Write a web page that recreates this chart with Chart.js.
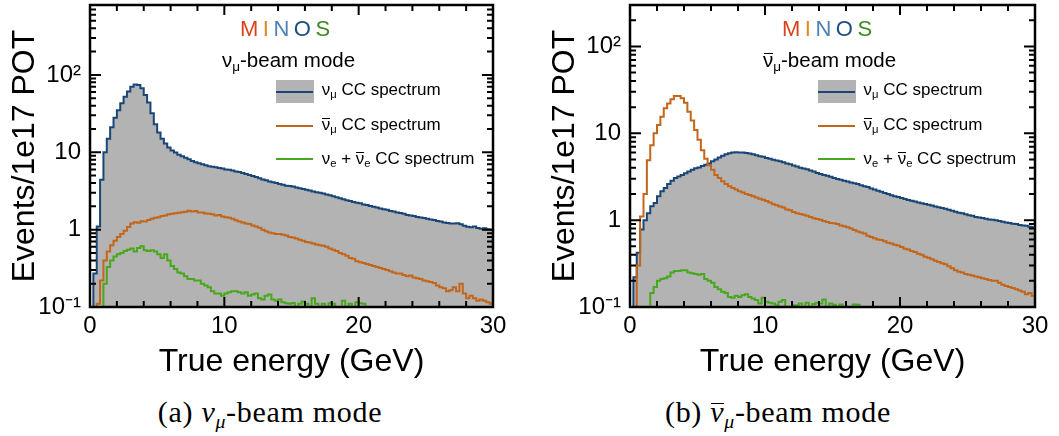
<!DOCTYPE html>
<html><head><meta charset="utf-8">
<script src="https://cdn.jsdelivr.net/npm/chart.js@4/dist/chart.umd.min.js"></script>
<style>
html,body{margin:0;padding:0;background:#fff;}
body{width:1059px;height:436px;position:relative;overflow:hidden;font-family:"Liberation Sans",Arial,sans-serif;color:#000;}
.panel{position:absolute;top:0;}
canvas{display:block;}
.abs{position:absolute;white-space:nowrap;}
.logo{font-size:22px;line-height:22px;letter-spacing:4.5px;}
.mode{font-size:20.5px;line-height:20px;}
.leg{font-size:17px;line-height:17px;}
.sub{font-size:0.66em;position:relative;top:0.32em;}
.bar{position:relative;display:inline-block;}
.bar::before{content:"";position:absolute;left:0.04em;right:0.02em;top:0.13em;border-top:1.4px solid #000;}
.sw{position:absolute;width:38px;height:23px;}
.swl{position:absolute;width:37px;height:2px;}
.cap{font-family:"Liberation Serif","Times New Roman",serif;font-size:30px;line-height:30px;text-align:center;letter-spacing:0.7px;}
.cap .bar::before{top:0.2em;border-top-width:1.2px;}
</style>
</head>
<body>
<div class="panel" style="left:0;width:530px;height:385px"><canvas id="cA" width="530" height="385"></canvas></div>
<div class="panel" style="left:540px;width:519px;height:385px"><canvas id="cB" width="519" height="385"></canvas></div>

<div class="abs logo" style="left:240px;top:18px"><span style="color:#d8431c">M</span><span style="color:#e08a1e">I</span><span style="color:#4b82b8">N</span><span style="color:#1d4f80">O</span><span style="color:#3f8a26">S</span></div>
<div class="abs mode" style="left:222px;top:50px">ν<span class="sub">μ</span>-beam mode</div>
<div class="sw" style="left:276px;top:80px;background:#b3b3b3"></div>
<div class="swl" style="left:276px;top:90.7px;background:#1a4677"></div>
<div class="swl" style="left:276px;top:124.7px;background:#c4661a"></div>
<div class="swl" style="left:276px;top:158px;background:#48a81c"></div>
<div class="abs leg" style="left:321.7px;top:80.6px">ν<span class="sub">μ</span> CC spectrum</div>
<div class="abs leg" style="left:321.7px;top:115.6px"><span class="bar">ν</span><span class="sub">μ</span> CC spectrum</div>
<div class="abs leg" style="left:321.7px;top:149.9px">ν<span class="sub">e</span> + <span class="bar">ν</span><span class="sub">e</span> CC spectrum</div>

<div class="abs logo" style="left:782px;top:18px"><span style="color:#d8431c">M</span><span style="color:#e08a1e">I</span><span style="color:#4b82b8">N</span><span style="color:#1d4f80">O</span><span style="color:#3f8a26">S</span></div>
<div class="abs mode" style="left:763px;top:50px"><span class="bar">ν</span><span class="sub">μ</span>-beam mode</div>
<div class="sw" style="left:818px;top:80px;background:#b3b3b3"></div>
<div class="swl" style="left:818px;top:90.7px;background:#1a4677"></div>
<div class="swl" style="left:818px;top:124.7px;background:#c4661a"></div>
<div class="swl" style="left:818px;top:158px;background:#48a81c"></div>
<div class="abs leg" style="left:863.5px;top:80.6px">ν<span class="sub">μ</span> CC spectrum</div>
<div class="abs leg" style="left:863.5px;top:115.6px"><span class="bar">ν</span><span class="sub">μ</span> CC spectrum</div>
<div class="abs leg" style="left:863.5px;top:149.9px">ν<span class="sub">e</span> + <span class="bar">ν</span><span class="sub">e</span> CC spectrum</div>

<div class="abs cap" style="left:0;width:540px;top:396.5px">(a) <i>ν<span class="sub">μ</span></i>-beam mode</div>
<div class="abs cap" style="left:518px;width:520px;top:396.5px">(b) <i><span class="bar">ν</span><span class="sub">μ</span></i>-beam mode</div>

<script>
// ---- binning ----
const BIN_W = 0.25;          // GeV per bin, 120 bins from 0 to 30 GeV
const X_MIN = 0, X_MAX = 30;

// ---- axis ticks ----
const X_TICKS = [0,2,4,6,8,10,12,14,16,18,20,22,24,26,28,30];
const X_LABELED = [0,10,20,30];
const Y_TICKS_A = [0.1,0.2,0.3,0.4,0.5,0.6,0.7,0.8,0.9,1,2,3,4,5,6,7,8,9,10,20,30,40,50,60,70,80,90,100,200,300,400,500,600,700,800];
const Y_TICKS_B = [0.1,0.2,0.3,0.4,0.5,0.6,0.7,0.8,0.9,1,2,3,4,5,6,7,8,9,10,20,30,40,50,60,70,80,90,100,200,300];
const Y_MAJOR = [0.1,1,10,100];
const Y_LABEL_VALUES = [0.1,1,10,100];
const Y_LABEL_TEXT = ['10\u207B\u00B9','1','10','10\u00B2'];
const Y_MAX_A = 800, Y_MAX_B = 300, Y_MIN = 0.1;

// ---- panel (a): nu_mu-beam mode, events / 1e17 POT per 0.25 GeV bin ----
const A_NUMU = [
 0.04,0.27,1.1,4.4,10,15,21,28,35,43,
 52,61,70,75,74,67,55,44,32,23,
 18,15,13,11.5,10.5,9.9,9.3,8.9,8.5,8.1,
 7.7,7.4,7.2,7.0,6.8,6.6,6.5,6.4,6.25,6.15,
 6.0,5.95,5.8,5.65,5.55,5.4,5.25,5.1,4.95,4.8,
 4.6,4.45,4.35,4.2,4.1,4.0,3.9,3.8,3.7,3.65,
 3.6,3.5,3.42,3.35,3.28,3.2,3.12,3.05,3.0,2.93,
 2.85,2.78,2.7,2.62,2.55,2.47,2.4,2.35,2.28,2.22,
 2.2,2.12,2.08,2.02,1.98,1.93,1.88,1.84,1.8,1.74,
 1.71,1.66,1.64,1.6,1.55,1.52,1.5,1.46,1.43,1.41,
 1.38,1.35,1.33,1.29,1.27,1.24,1.22,1.2,1.2,1.21,
 1.17,1.12,1.09,1.07,1.1,1.05,1.03,1.04,1.01,1.0];
const A_NUMUBAR = [
 0.01,0.01,0.11,0.22,0.40,0.52,0.63,0.72,0.8,0.88,
 0.97,1.08,1.2,1.25,1.23,1.28,1.27,1.33,1.38,1.42,
 1.45,1.5,1.52,1.58,1.6,1.63,1.65,1.68,1.7,1.75,
 1.72,1.74,1.66,1.67,1.62,1.6,1.58,1.52,1.54,1.48,
 1.45,1.42,1.38,1.32,1.27,1.24,1.2,1.18,1.13,1.1,
 1.06,1.0,0.95,0.92,0.9,0.88,0.88,0.86,0.84,0.8,
 0.79,0.77,0.74,0.72,0.69,0.68,0.66,0.64,0.63,0.62,
 0.6,0.57,0.55,0.53,0.5,0.48,0.46,0.43,0.42,0.39,
 0.38,0.37,0.36,0.35,0.34,0.33,0.32,0.31,0.3,0.29,
 0.28,0.27,0.27,0.26,0.25,0.255,0.24,0.235,0.23,0.22,
 0.215,0.21,0.205,0.19,0.18,0.175,0.16,0.165,0.18,0.16,
 0.2,0.15,0.13,0.14,0.13,0.12,0.125,0.12,0.115,0.11];
const A_NUE = [
 0.01,0.01,0.01,0.01,0.2,0.33,0.4,0.45,0.48,0.5,
 0.53,0.55,0.57,0.52,0.58,0.61,0.54,0.53,0.54,0.52,
 0.48,0.43,0.48,0.4,0.34,0.31,0.28,0.27,0.25,0.23,
 0.23,0.22,0.22,0.2,0.19,0.18,0.16,0.15,0.15,0.14,
 0.15,0.155,0.16,0.16,0.155,0.15,0.155,0.14,0.145,0.15,
 0.13,0.125,0.14,0.145,0.125,0.12,0.125,0.115,0.112,0.11,
 0.113,0.1,0.11,0.118,0.11,0.1,0.13,0.11,0.098,0.11,
 0.1,0.112,0.11,0.097,0.1,0.12,0.098,0.11,0.097,0.115,
 0.112,0.11,0.08,0.07,0.06,0.05,0.06,0.05,0.06,0.05,
 0.05,0.06,0.05,0.05,0.04,0.05,0.05,0.04,0.05,0.04,
 0.04,0.05,0.04,0.04,0.04,0.03,0.04,0.04,0.03,0.04,
 0.03,0.03,0.04,0.03,0.03,0.03,0.03,0.02,0.03,0.03];

// ---- panel (b): anti-nu_mu-beam mode ----
const B_NUMU = [
 0.1,0.22,0.42,0.78,1.0,1.2,1.45,1.58,1.88,2.15,
 2.35,2.6,2.85,3.05,3.18,3.32,3.47,3.62,3.8,3.95,
 4.05,4.2,4.35,4.5,4.75,5.0,5.25,5.5,5.75,5.9,
 6.0,6.05,6.0,6.0,5.95,5.85,5.75,5.6,5.45,5.38,
 5.2,5.1,4.95,4.85,4.75,4.65,4.5,4.4,4.25,4.15,
 4.0,3.92,3.85,3.74,3.62,3.5,3.4,3.32,3.25,3.15,
 3.05,2.98,2.92,2.85,2.78,2.72,2.66,2.6,2.52,2.46,
 2.4,2.32,2.25,2.18,2.12,2.05,2.0,1.94,1.88,1.85,
 1.8,1.75,1.71,1.67,1.64,1.6,1.56,1.53,1.5,1.47,
 1.44,1.41,1.38,1.35,1.32,1.28,1.25,1.22,1.2,1.17,
 1.14,1.12,1.09,1.07,1.06,1.04,1.02,1.01,1.0,0.98,
 0.96,0.94,0.93,0.91,0.9,0.88,0.87,0.86,0.84,0.83];
const B_NUMUBAR = [
 0.01,0.01,0.3,1.1,2.0,4.9,7.3,10,12.5,15.5,
 19.4,22,24.6,26.9,26.9,25.3,22.4,17.7,14,10.9,
 8.4,6.4,5.1,4.3,3.8,3.3,3.05,2.8,2.6,2.45,
 2.35,2.25,2.15,2.08,2.0,1.95,1.88,1.82,1.76,1.72,
 1.66,1.6,1.52,1.48,1.44,1.4,1.33,1.3,1.24,1.2,
 1.18,1.15,1.12,1.09,1.05,1.03,1.01,0.98,0.95,0.93,
 0.92,0.9,0.87,0.85,0.83,0.8,0.77,0.74,0.72,0.7,
 0.66,0.64,0.62,0.6,0.59,0.57,0.55,0.54,0.52,0.51,
 0.49,0.47,0.46,0.44,0.43,0.41,0.4,0.38,0.37,0.355,
 0.34,0.33,0.32,0.31,0.295,0.28,0.265,0.255,0.25,0.24,
 0.235,0.23,0.225,0.22,0.215,0.21,0.205,0.2,0.2,0.19,
 0.18,0.175,0.17,0.165,0.16,0.155,0.15,0.14,0.145,0.135];
const B_NUE = [
 0.01,0.01,0.01,0.01,0.01,0.05,0.145,0.17,0.2,0.21,
 0.215,0.225,0.25,0.26,0.26,0.265,0.265,0.25,0.245,0.24,
 0.235,0.24,0.21,0.2,0.19,0.17,0.16,0.15,0.145,0.13,
 0.128,0.135,0.13,0.137,0.14,0.13,0.125,0.12,0.11,0.128,
 0.115,0.112,0.11,0.105,0.115,0.12,0.1,0.095,0.105,0.105,
 0.11,0.1,0.112,0.1,0.108,0.112,0.11,0.122,0.1,0.11,
 0.106,0.098,0.107,0.095,0.1,0.09,0.107,0.106,0.09,0.08,
 0.07,0.06,0.07,0.06,0.05,0.06,0.05,0.05,0.06,0.05,
 0.05,0.04,0.05,0.05,0.04,0.04,0.05,0.04,0.04,0.04,
 0.04,0.03,0.04,0.04,0.03,0.03,0.04,0.03,0.03,0.03,
 0.03,0.03,0.02,0.03,0.03,0.02,0.03,0.02,0.02,0.02,
 0.02,0.02,0.02,0.02,0.02,0.02,0.02,0.02,0.02,0.02];

// ---- styles ----
const BLUE = '#1a4677', ORANGE = '#c4661a', GREEN = '#48a81c', GREY = '#b3b3b3';
const FONT = '"Liberation Sans", Arial, Helvetica, sans-serif';
Chart.defaults.font.family = FONT;
Chart.defaults.color = '#000';

function hist(vals){
  const pts = vals.map((v,i)=>({x: X_MIN + i*BIN_W, y: v}));
  pts.push({x: X_MIN + vals.length*BIN_W, y: vals[vals.length-1]});
  return pts;
}

// frame box + inward ROOT-style tick marks, positioned by the chart's own scales
const framePlugin = {
  id: 'histframe',
  afterDraw(chart){
    const ctx = chart.ctx;
    const a = chart.chartArea;
    const xs = chart.scales.x, ys = chart.scales.y;
    ctx.save();
    ctx.strokeStyle = '#000';
    ctx.lineWidth = 2;
    ctx.beginPath();
    ys.ticks.forEach(t=>{
      const py = ys.getPixelForValue(t.value);
      const len = Y_MAJOR.indexOf(t.value) >= 0 ? 11 : 6;
      ctx.moveTo(a.left, py); ctx.lineTo(a.left+len, py);
      ctx.moveTo(a.right, py); ctx.lineTo(a.right-len, py);
    });
    xs.ticks.forEach(t=>{
      const px = xs.getPixelForValue(t.value);
      const len = X_LABELED.indexOf(t.value) >= 0 ? 10 : 6;
      ctx.moveTo(px, a.bottom); ctx.lineTo(px, a.bottom-len);
      ctx.moveTo(px, a.top); ctx.lineTo(px, a.top+len);
    });
    ctx.stroke();
    ctx.lineWidth = 2.5;
    ctx.strokeRect(a.left, a.top, a.right-a.left, a.bottom-a.top);
    ctx.restore();
  }
};

function makePanel(id, numu, numubar, nue, yMax, yTicks, rightPad){
  const common = {stepped:true, borderWidth:2, pointRadius:0, clip:0};
  return new Chart(document.getElementById(id), {
    type:'line',
    data:{datasets:[
      Object.assign({label:'numu CC', data:hist(numu), borderColor:BLUE, backgroundColor:GREY, fill:'start', order:3}, common),
      Object.assign({label:'numubar CC', data:hist(numubar), borderColor:ORANGE, backgroundColor:ORANGE, fill:false, order:2}, common),
      Object.assign({label:'nue CC', data:hist(nue), borderColor:GREEN, backgroundColor:GREEN, fill:false, order:1}, common)
    ]},
    options:{
      responsive:false, animation:false, devicePixelRatio:1,
      layout:{padding:{top:5, right:rightPad, left:0, bottom:0}},
      plugins:{legend:{display:false}, tooltip:{enabled:false}},
      scales:{
        x:{type:'linear', min:X_MIN, max:X_MAX,
          afterBuildTicks: s=>{ s.ticks = X_TICKS.map(v=>({value:v})); },
          afterFit: s=>{ s.height = 78; s.paddingLeft = 0; s.paddingRight = 0; },
          grid:{display:false, drawTicks:false}, border:{display:false},
          ticks:{autoSkip:false, maxRotation:0, minRotation:0, padding:5, color:'#000', font:{size:24},
            callback: v => X_LABELED.indexOf(v) >= 0 ? String(v) : ''},
          title:{display:true, text:'True energy (GeV)', color:'#000', font:{size:32}, padding:{top:0,bottom:4}}
        },
        y:{type:'logarithmic', min:Y_MIN, max:yMax,
          afterBuildTicks: s=>{ s.ticks = yTicks.map(v=>({value:v})); },
          afterFit: s=>{ s.width = 90; s.paddingTop = 0; s.paddingBottom = 0; },
          grid:{display:false, drawTicks:false}, border:{display:false},
          ticks:{autoSkip:false, padding:9, color:'#000', font:{size:24},
            callback: v => { const k = Y_LABEL_VALUES.indexOf(v); return k>=0 ? Y_LABEL_TEXT[k] : ''; }},
          title:{display:true, text:'Events/1e17 POT', color:'#000', font:{size:32}, padding:{top:6,bottom:0}}
        }
      }
    },
    plugins:[framePlugin]
  });
}

makePanel('cA', A_NUMU, A_NUMUBAR, A_NUE, Y_MAX_A, Y_TICKS_A, 37);
makePanel('cB', B_NUMU, B_NUMUBAR, B_NUE, Y_MAX_B, Y_TICKS_B, 24);
</script>
</body></html>
